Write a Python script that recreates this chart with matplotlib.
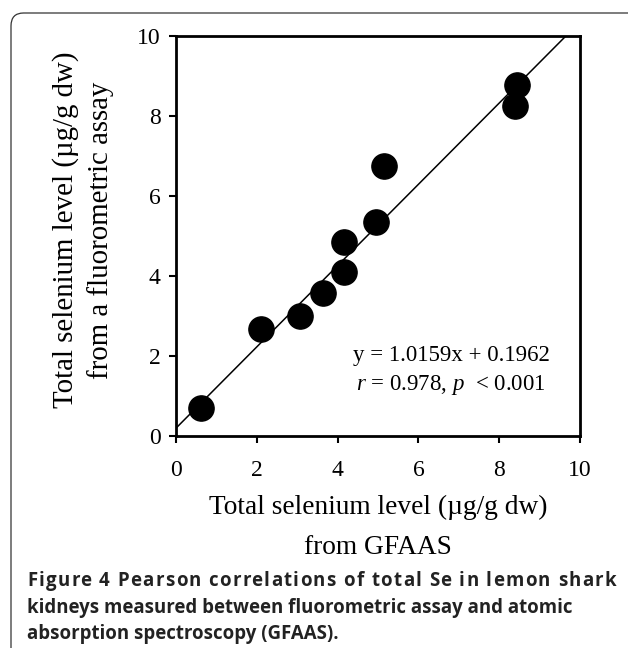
import numpy as np
import matplotlib
matplotlib.use("Agg")
import matplotlib.pyplot as plt
from matplotlib.patches import FancyBboxPatch

plt.rcParams['font.family'] = ['Liberation Serif', 'DejaVu Serif']
plt.rcParams['mathtext.fontset'] = 'custom'
plt.rcParams['mathtext.rm'] = 'Liberation Serif'
plt.rcParams['mathtext.it'] = 'Liberation Serif:italic'

# Se level by GFAAS (x) and by fluorometric assay (y), in ug/g dw
gfaas = [0.61, 2.11, 3.08, 3.63, 4.16, 4.16, 4.94, 5.15, 8.39, 8.44]
fluoro = [0.69, 2.67, 3.00, 3.58, 4.09, 4.86, 5.36, 6.76, 8.25, 8.78]
slope = 1.0159
intercept = 0.1962
ticks = [0, 2, 4, 6, 8, 10]
caption = ["Figure 4 Pearson correlations of total Se in lemon shark",
           "kidneys measured between fluorometric assay and atomic",
           "absorption spectroscopy (GFAAS)."]

fig = plt.figure(figsize=(6.28, 6.48), dpi=100)
W, H = 628, 648

# rounded frame around the figure
frame = FancyBboxPatch((11 / W, -0.1), 1.2, 1.1 - 13 / H,
                       boxstyle="round,pad=0,rounding_size=0.02",
                       transform=fig.transFigure, fill=False,
                       edgecolor='#333333', linewidth=0.9)
fig.patches.append(frame)

ax = fig.add_axes([176 / W, 1 - 436 / H, 404 / W, 400 / H])
ax.scatter(gfaas, fluoro, s=330, color='black', zorder=3)
xl = np.array([0, (10 - intercept) / slope])
ax.plot(xl, slope * xl + intercept, color='black', linewidth=1.1, zorder=2)

ax.set_xlim(0, 10)
ax.set_ylim(0, 10)
ax.set_xticks(ticks)
ax.set_yticks(ticks)
ax.tick_params(direction='out', length=5, width=1.5, labelsize=17, pad=12)
ax.tick_params(axis='y', pad=6)
for sp in ax.spines.values():
    sp.set_linewidth(2.0)

ax.text(0.925, 0.2, "y = 1.0159x + 0.1962", transform=ax.transAxes,
        ha='right', va='center', fontsize=16.5)
ax.text(0.915, 0.127, "$r$ = 0.978, $p$  < 0.001", transform=ax.transAxes,
        ha='right', va='center', fontsize=16.5)

fig.text(378 / W, 1 - 507 / H, "Total selenium level (\u00b5g/g dw)",
         ha='center', va='center', fontsize=19.7)
fig.text(378 / W, 1 - 548 / H, "from GFAAS",
         ha='center', va='center', fontsize=19.7)
fig.text(66 / W, 1 - 230 / H, "Total selenium level (\u00b5g/g dw)",
         ha='center', va='center', fontsize=20.8, rotation=90)
fig.text(101 / W, 1 - 230 / H, "from a fluorometric assay",
         ha='center', va='center', fontsize=20.8, rotation=90)

# caption: bold sans, size fitted to line 2, line 1 letter-spaced to full width
renderer = fig.canvas.get_renderer()
cap = {'family': 'Open Sans', 'fontweight': 'bold', 'va': 'center',
       'ha': 'left', 'color': '#222222'}


def width(s, size):
    t = fig.text(0, 0, s, fontsize=size, **cap)
    w = t.get_window_extent(renderer).width
    t.remove()
    return w


size = 13.0
size = size * 541 / width(caption[1], size)
x0 = 27
fig.text(x0 / W, 1 - 608 / H, caption[1], fontsize=size, **cap)
fig.text(x0 / W, 1 - 634 / H, caption[2], fontsize=size, **cap)

line = caption[0]
natural = width(line, size)
track = (616 - x0 - natural) / (len(line) - 1)
for i, ch in enumerate(line):
    if ch == ' ':
        continue
    xi = width(line[:i + 1], size) - width(ch, size) + track * i
    fig.text((x0 + xi) / W, 1 - 581 / H, ch, fontsize=size, **cap)

fig.savefig("out.png", dpi=100)
